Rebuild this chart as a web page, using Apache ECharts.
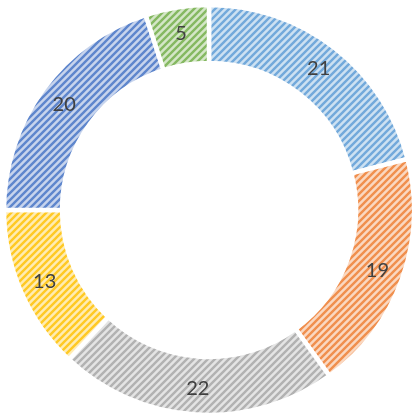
<!DOCTYPE html>
<html>
<head>
    <meta charset="utf-8">
    <title>Donut</title>
    <script type="text/javascript" src="https://cdn.jsdelivr.net/npm/echarts@6/dist/echarts.min.js"></script>
    <style>
        html, body { margin:0; padding:0; background:#fff; }
    </style>
</head>
<body>
    <div id="main" style="width:413px;height:416px;"></div>
    <script type="text/javascript">
        var values = [21, 19, 22, 13, 20, 5];
        var names = ['A', 'B', 'C', 'D', 'E', 'F'];
        var colors = ['#5B9BD5', '#ED7D31', '#A5A5A5', '#FFC000', '#4472C4', '#70AD47'];

        // diagonal stripe pattern for each colour
        function stripe(color) {
            var size = 7;
            var c = document.createElement('canvas');
            c.width = size;
            c.height = size;
            var ctx = c.getContext('2d');
            ctx.fillStyle = '#ffffff';
            ctx.fillRect(0, 0, size, size);
            ctx.globalAlpha = 0.3;
            ctx.fillStyle = color;
            ctx.fillRect(0, 0, size, size);
            ctx.globalAlpha = 0.8;
            ctx.strokeStyle = color;
            ctx.lineWidth = 2.4;
            ctx.beginPath();
            ctx.moveTo(-1, size + 1); ctx.lineTo(size + 1, -1);
            ctx.moveTo(-1, 1); ctx.lineTo(1, -1);
            ctx.moveTo(size - 1, size + 1); ctx.lineTo(size + 1, size - 1);
            ctx.stroke();
            return c;
        }

        var data = [];
        for (var i = 0; i < values.length; i++) {
            data.push({
                name: names[i],
                value: values[i],
                itemStyle: { color: { image: stripe(colors[i]), repeat: 'repeat' } }
            });
        }

        var myChart = echarts.init(document.getElementById('main'));
        myChart.setOption({
            animation: false,
            series: [{
                type: 'pie',
                center: [209, 210],
                radius: [147, 205],
                startAngle: 90,
                itemStyle: { borderColor: '#fff', borderWidth: 4.5 },
                label: {
                    show: true,
                    position: 'inside',
                    formatter: '{c}',
                    color: '#404040',
                    fontSize: 20,
                    fontFamily: 'Lato'
                },
                labelLine: { show: false },
                data: data
            }]
        });
    </script>
</body>
</html>
